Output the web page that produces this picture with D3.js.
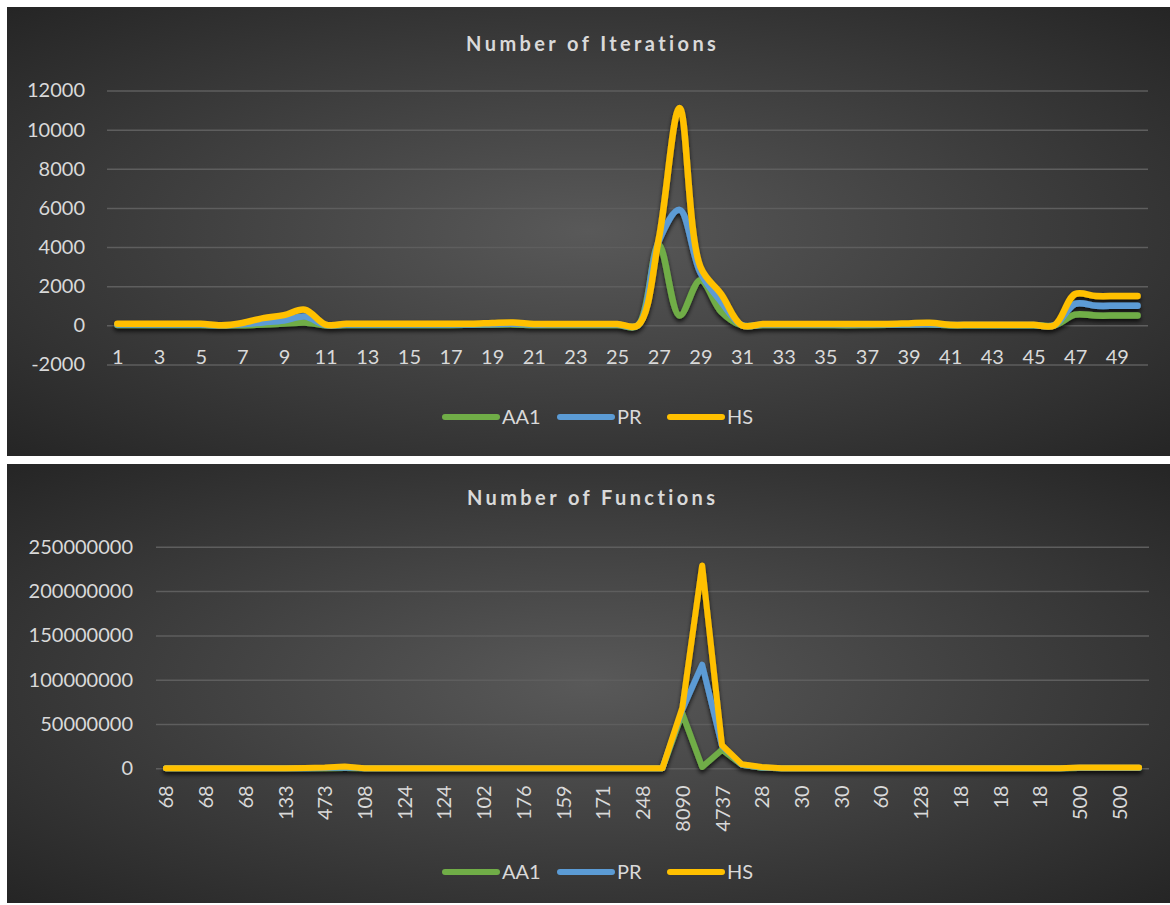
<!DOCTYPE html>
<html>
<head>
<meta charset="utf-8">
<script src="https://cdn.jsdelivr.net/npm/d3@7"></script>
<style>
  html, body { margin: 0; padding: 0; background: #ffffff; }
  svg { display: block; }
  text { font-family: Lato, "Open Sans", sans-serif; }
</style>
</head>
<body>
<svg id="chart" width="1170" height="905"></svg>
<script>
// ---------------- DATA ----------------
const seriesNames = ["AA1", "PR", "HS"];
const seriesColors = ["#70AD47", "#5B9BD5", "#FFC000"];

// Chart 1: Number of Iterations (categories 1..50)
const iterCategories = [1,2,3,4,5,6,7,8,9,10,11,12,13,14,15,16,17,18,19,20,21,22,23,24,25,26,27,28,29,30,31,32,33,34,35,36,37,38,39,40,41,42,43,44,45,46,47,48,49,50];
const iterTickLabels = ["1","3","5","7","9","11","13","15","17","19","21","23","25","27","29","31","33","35","37","39","41","43","45","47","49"];
const iterAA1 = [20,20,20,20,20,0,10,50,90,150,10,20,20,20,20,20,20,30,40,50,20,20,20,20,20,0,4100,500,2300,700,0,20,20,20,20,10,20,30,40,50,10,10,10,10,10,0,550,500,500,500];
const iterPR  = [40,40,40,40,40,0,50,150,250,450,20,40,40,40,40,40,40,40,60,80,40,40,40,40,40,0,4300,5900,2700,1200,0,40,40,40,40,40,40,40,40,60,20,20,20,20,20,0,1100,1000,1000,1000];
const iterHS  = [80,80,80,80,80,0,120,370,520,800,40,80,80,80,80,80,80,80,120,150,70,70,70,70,70,0,4400,11100,3000,1600,0,70,70,70,70,70,70,70,100,130,30,30,30,30,30,0,1600,1500,1500,1500];
const iterYTicks = [-2000,0,2000,4000,6000,8000,10000,12000];

// Chart 2: Number of Functions (50 categories, every other label shown)
const fnCategories = [1,2,3,4,5,6,7,8,9,10,11,12,13,14,15,16,17,18,19,20,21,22,23,24,25,26,27,28,29,30,31,32,33,34,35,36,37,38,39,40,41,42,43,44,45,46,47,48,49,50];
const fnTickLabels = ["68","68","68","133","473","108","124","124","102","176","159","171","248","8090","4737","28","30","30","60","128","18","18","18","500","500"];
const fnAA1 = [10000,10000,10000,10000,10000,0,20000,60000,150000,300000,10000,20000,20000,20000,20000,20000,20000,30000,40000,50000,20000,20000,20000,20000,20000,0,62000000,1500000,21000000,4000000,500000,10000,10000,10000,10000,10000,10000,10000,20000,30000,5000,5000,5000,5000,5000,0,250000,250000,250000,250000];
const fnPR  = [20000,20000,20000,20000,20000,0,40000,150000,300000,900000,20000,40000,40000,40000,40000,40000,40000,40000,60000,80000,40000,40000,40000,40000,40000,0,66000000,117000000,25000000,4000000,800000,20000,20000,20000,20000,20000,20000,20000,30000,50000,10000,10000,10000,10000,10000,0,500000,500000,500000,500000];
const fnHS  = [40000,40000,40000,40000,40000,0,100000,400000,800000,2000000,30000,80000,80000,80000,80000,80000,80000,80000,120000,150000,60000,60000,60000,60000,60000,0,68000000,229000000,26000000,4500000,1500000,40000,40000,40000,40000,40000,40000,40000,60000,90000,20000,20000,20000,20000,20000,0,800000,800000,800000,800000];
const fnYTicks = [0,50000000,100000000,150000000,200000000,250000000];

// ---------------- DRAW ----------------
const svg = d3.select("#chart");
const defs = svg.append("defs");

const grad = defs.append("radialGradient").attr("id", "bg")
  .attr("cx", "50%").attr("cy", "50%").attr("r", "72%");
grad.append("stop").attr("offset", "0%").attr("stop-color", "#595959");
grad.append("stop").attr("offset", "100%").attr("stop-color", "#242424");

const shadow = defs.append("filter").attr("id", "shadow")
  .attr("x", "-5%").attr("y", "-20%").attr("width", "110%").attr("height", "140%");
shadow.append("feDropShadow").attr("dx", 0).attr("dy", 3).attr("stdDeviation", 2.2)
  .attr("flood-color", "#000").attr("flood-opacity", 0.75);

const textColor = "#d9d9d9";
const gridColor = "#5e5e5e";

function drawChart(cfg) {
  const g = svg.append("g");
  g.append("rect").attr("x", cfg.panel[0]).attr("y", cfg.panel[1])
    .attr("width", cfg.panel[2]).attr("height", cfg.panel[3]).attr("fill", "url(#bg)");

  const x = d3.scaleLinear().domain([0.5, cfg.categories.length + 0.5]).range(cfg.xRange);
  const y = d3.scaleLinear().domain(cfg.yDomain).range(cfg.yRange);

  // gridlines
  const grid = g.append("g").attr("transform", `translate(${cfg.xRange[0]},0)`)
    .call(d3.axisLeft(y).tickValues(cfg.yTicks).tickSize(-(cfg.xRange[1] - cfg.xRange[0])).tickFormat(""));
  grid.select(".domain").remove();
  grid.selectAll("line").attr("stroke", gridColor).attr("stroke-width", 1.5);

  // y labels
  const yAx = g.append("g").attr("transform", `translate(${cfg.yLabelX},0)`)
    .call(d3.axisLeft(y).tickValues(cfg.yTicks).tickSize(0).tickPadding(0).tickFormat(d => String(d)));
  yAx.select(".domain").remove();
  yAx.selectAll("text").attr("fill", textColor).style("font-size", cfg.fontSize + "px")
    .attr("font-family", "Lato, sans-serif");

  // x labels
  const oddCats = cfg.categories.filter((c, i) => i % 2 === 0);
  const xAx = g.append("g").attr("transform", `translate(0,${y(0)})`)
    .call(d3.axisBottom(x).tickValues(oddCats).tickSize(0).tickPadding(0)
      .tickFormat((d, i) => cfg.tickLabels[i]));
  xAx.select(".domain").remove();
  xAx.selectAll("text").attr("fill", textColor).style("font-size", cfg.fontSize + "px")
    .attr("font-family", "Lato, sans-serif");
  if (cfg.rotate) {
    xAx.selectAll("text").attr("transform", "rotate(-90)")
      .attr("text-anchor", "end").attr("x", -cfg.xLabelOffset).attr("y", 0).attr("dy", "0.35em");
  } else {
    xAx.selectAll("text").attr("y", cfg.xLabelOffset).attr("dy", "0.71em");
  }

  // lines
  const line = d3.line().x((d, i) => x(cfg.categories[i])).y(d => y(d)).curve(cfg.curve);
  const lg = g.append("g").attr("filter", "url(#shadow)");
  cfg.series.forEach((s, k) => {
    lg.append("path").datum(s).attr("d", line).attr("fill", "none")
      .attr("stroke", seriesColors[k]).attr("stroke-width", cfg.lineWidth)
      .attr("stroke-linecap", "round").attr("stroke-linejoin", "round");
  });

  // title
  const ls = 3.4;
  g.append("text").attr("x", cfg.titlePos[0] + ls / 2).attr("y", cfg.titlePos[1])
    .attr("text-anchor", "middle").attr("fill", textColor)
    .style("font-size", "20px").style("font-weight", "bold").style("letter-spacing", ls + "px")
    .text(cfg.title);

  // legend
  const legX = [445, 560, 670];
  seriesNames.forEach((n, k) => {
    g.append("line").attr("x1", legX[k]).attr("x2", legX[k] + 52)
      .attr("y1", cfg.legendY).attr("y2", cfg.legendY)
      .attr("stroke", seriesColors[k]).attr("stroke-width", 6).attr("stroke-linecap", "round");
    g.append("text").attr("x", legX[k] + 57).attr("y", cfg.legendY).attr("dy", "0.36em")
      .attr("fill", textColor).style("font-size", cfg.fontSize + "px").text(n);
  });
}

drawChart({
  panel: [7, 7, 1163, 449],
  categories: iterCategories,
  tickLabels: iterTickLabels,
  series: [iterAA1, iterPR, iterHS],
  xRange: [107, 1148],
  yDomain: [-2000, 12000],
  yRange: [364.5, 90.5],
  yTicks: iterYTicks,
  yLabelX: 85,
  fontSize: 20,
  rotate: false,
  xLabelOffset: 24,
  curve: d3.curveCatmullRom.alpha(0.5),
  lineWidth: 6.5,
  title: "Number of Iterations",
  titlePos: [591, 51],
  legendY: 417
});

drawChart({
  panel: [7, 464, 1163, 439],
  categories: fnCategories,
  tickLabels: fnTickLabels,
  series: [fnAA1, fnPR, fnHS],
  xRange: [156, 1149],
  yDomain: [0, 250000000],
  yRange: [768.3, 546.8],
  yTicks: fnYTicks,
  yLabelX: 133,
  fontSize: 20,
  rotate: true,
  xLabelOffset: 17,
  curve: d3.curveLinear,
  lineWidth: 6,
  title: "Number of Functions",
  titlePos: [591, 505],
  legendY: 872
});
</script>
</body>
</html>
